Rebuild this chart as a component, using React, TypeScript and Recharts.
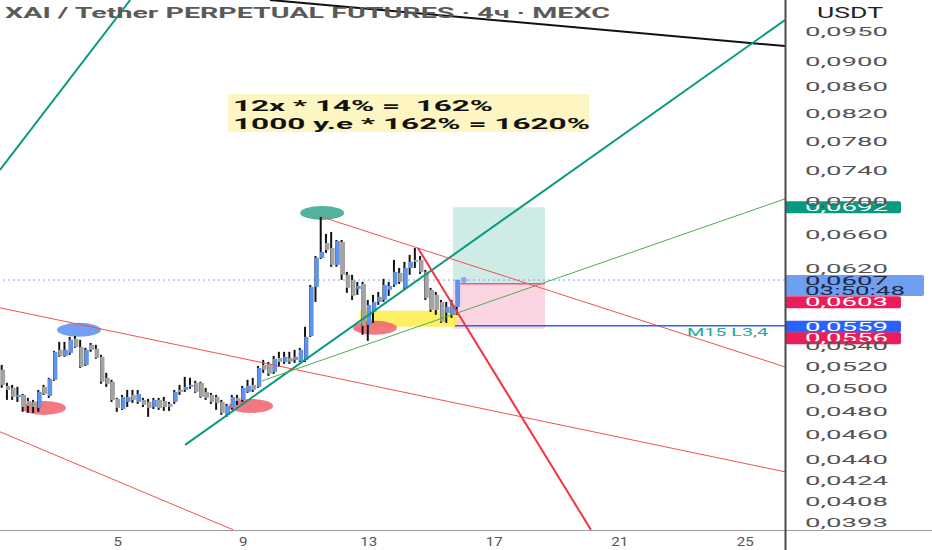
import React from 'react';
import { ComposedChart, Bar, XAxis, YAxis, ReferenceLine, ReferenceArea, ReferenceDot } from 'recharts';

// 4h candles, index 0 = first visible candle
const openP = [0.05165, 0.05018, 0.05, 0.04919, 0.04937, 0.04884, 0.04875, 0.04823, 0.05009, 0.04928, 0.05073, 0.05354, 0.05296, 0.05325, 0.05461, 0.05382, 0.05211, 0.05402, 0.05363, 0.05287, 0.05091, 0.05055, 0.04902, 0.04814, 0.04875, 0.04937, 0.04875, 0.04893, 0.04875, 0.04831, 0.04893, 0.04884, 0.04858, 0.04875, 0.04982, 0.04982, 0.05009, 0.05046, 0.05046, 0.04964, 0.04937, 0.04919, 0.04875, 0.04763, 0.04823, 0.04911, 0.04893, 0.04964, 0.05027, 0.05009, 0.05211, 0.0522, 0.05146, 0.05277, 0.05239, 0.05277, 0.05258, 0.05249, 0.05258, 0.0549, 0.05996, 0.06317, 0.06489, 0.06431, 0.06238, 0.06501, 0.06127, 0.06072, 0.05974, 0.06028, 0.056, 0.05732, 0.05836, 0.05857, 0.05964, 0.06017, 0.06149, 0.05985, 0.06204, 0.06294, 0.06294, 0.0616, 0.05964, 0.0591, 0.05836, 0.05722, 0.05702, 0.05784];
const highP = [0.05211, 0.05046, 0.05027, 0.05009, 0.04946, 0.04911, 0.04893, 0.04982, 0.05027, 0.05091, 0.05344, 0.05431, 0.05431, 0.0548, 0.0549, 0.05451, 0.05373, 0.05421, 0.05402, 0.05306, 0.05137, 0.05073, 0.04911, 0.04937, 0.04982, 0.04982, 0.04982, 0.04911, 0.04902, 0.04911, 0.04911, 0.04919, 0.04875, 0.04982, 0.05027, 0.051, 0.05091, 0.05064, 0.05055, 0.05, 0.04955, 0.04937, 0.04893, 0.04858, 0.04937, 0.04937, 0.05018, 0.05073, 0.05091, 0.05201, 0.05258, 0.05239, 0.05296, 0.05335, 0.05335, 0.05335, 0.05354, 0.05373, 0.0558, 0.06017, 0.06339, 0.068, 0.06595, 0.06619, 0.06524, 0.06524, 0.0616, 0.06127, 0.0605, 0.0605, 0.05857, 0.0591, 0.05942, 0.06083, 0.0605, 0.06294, 0.06204, 0.06272, 0.06351, 0.06431, 0.06339, 0.06182, 0.05985, 0.05942, 0.05857, 0.05836, 0.05857, 0.06072];
const lowP = [0.05, 0.04893, 0.04893, 0.04875, 0.04789, 0.0478, 0.0478, 0.04789, 0.04937, 0.04911, 0.05064, 0.05287, 0.05287, 0.05306, 0.05373, 0.05183, 0.05201, 0.05335, 0.05268, 0.05037, 0.05009, 0.04875, 0.04789, 0.04806, 0.04831, 0.04867, 0.04858, 0.04831, 0.04746, 0.04814, 0.04806, 0.04797, 0.04797, 0.04858, 0.04937, 0.04964, 0.04991, 0.04955, 0.04911, 0.04893, 0.04858, 0.04806, 0.04763, 0.04746, 0.04806, 0.04849, 0.04875, 0.04955, 0.04964, 0.05, 0.05137, 0.05109, 0.05128, 0.05192, 0.0522, 0.0522, 0.0523, 0.05239, 0.05239, 0.0548, 0.05836, 0.06305, 0.06374, 0.06216, 0.06216, 0.06072, 0.05932, 0.05857, 0.0591, 0.055, 0.05441, 0.0562, 0.05805, 0.05836, 0.059, 0.05996, 0.06028, 0.05964, 0.06127, 0.06204, 0.06138, 0.05857, 0.05732, 0.05702, 0.0562, 0.0562, 0.05671, 0.05702];
const closeP = [0.05027, 0.04982, 0.04919, 0.04937, 0.04831, 0.0484, 0.04831, 0.04964, 0.04946, 0.05082, 0.05335, 0.05296, 0.05354, 0.05451, 0.05382, 0.05192, 0.05354, 0.05354, 0.05277, 0.05055, 0.05037, 0.04893, 0.04823, 0.04919, 0.04919, 0.04893, 0.04946, 0.04849, 0.04823, 0.04893, 0.04823, 0.04831, 0.04831, 0.04964, 0.04964, 0.05009, 0.05027, 0.04964, 0.04919, 0.04911, 0.04875, 0.04867, 0.0478, 0.0484, 0.04919, 0.04884, 0.05, 0.05018, 0.04982, 0.05183, 0.05165, 0.05128, 0.05268, 0.05239, 0.05287, 0.05239, 0.05287, 0.05354, 0.0548, 0.05996, 0.06317, 0.06385, 0.06408, 0.06238, 0.06512, 0.06127, 0.05985, 0.059, 0.06006, 0.0559, 0.05805, 0.05836, 0.05889, 0.06017, 0.06006, 0.0616, 0.0605, 0.06204, 0.06272, 0.06272, 0.0616, 0.05878, 0.05753, 0.05753, 0.0563, 0.05784, 0.05805, 0.0607];

const priceTicks = [0.095, 0.09, 0.086, 0.082, 0.078, 0.074, 0.07, 0.066, 0.062, 0.054, 0.052, 0.05, 0.048, 0.046, 0.044, 0.0424, 0.0408, 0.0393];
const dayTicks = [22, 46, 70, 94, 118, 142];
const dayLabels = ['5', '9', '13', '17', '21', '25'];

// drawn trend lines: [index1, price1, index2, price2]
const blackLine = [51.1, 0.10045, 149.6, 0.09247];
const tealUpper = [-0.5, 0.07399, 24.4, 0.10045];
const tealLong = [34.9, 0.04513, 149.6, 0.0969];
const greenThin = [49.6, 0.05063, 149.6, 0.07024];
const redChannelTop = [-0.5, 0.05774, 149.6, 0.04299];
const redChannelLow = [-0.5, 0.0462, 44.1, 0.03873];
const redFromHigh = [61, 0.068, 149.6, 0.05192];
const redSteep = [79.4, 0.06431, 112.5, 0.03873];

// marked swings: [index, price]
const blueMark = [14.6, 0.0555];
const redMarks = [[7.9, 0.04823], [47.5, 0.0484], [71.2, 0.0557]];
const tealMark = [61.1, 0.06849];

// position tool
const entryPrice = 0.0603;
const targetPrice = 0.0692;
const stopPrice = 0.0556;
const levelPrice = 0.0559;
const lastPrice = 0.0607;
const toolStart = 86.1;
const toolEnd = 103.7;
const zoneTop = 0.05743;
const zoneBottom = 0.0558;
const zoneStart = 68.3;
const zoneEnd = 86.9;

const candles = openP.map((open, i) => ({ i, open, high: highP[i], low: lowP[i], close: closeP[i] }));

const X_MIN = -0.5;
const X_MAX = 149.6;
const Y_MIN = 0.03872;
const Y_MAX = 0.10045;

const fmt = (v: number) => v.toFixed(4).replace('.', ',');

const Candle = (props: any) => {
  const { x, y, width, height, payload } = props;
  if (x == null || y == null) return null;
  const top = Math.min(y, y + height);
  const h = Math.abs(height);
  const cx = x + width / 2;
  const lh = Math.log(payload.high);
  const ll = Math.log(payload.low);
  const toY = (p: number) => top + (h * (lh - Math.log(p))) / (lh - ll || 1);
  const up = payload.close >= payload.open;
  const bTop = toY(Math.max(payload.open, payload.close));
  const bBot = toY(Math.min(payload.open, payload.close));
  return (
    <g>
      <line x1={cx - 0.8} x2={cx - 0.8} y1={top} y2={top + h} stroke="#111" strokeWidth={2} />
      <rect x={cx - 1.6} y={bTop} width={4.2} height={Math.max(bBot - bTop, 1.5)} fill={up ? '#5f93ec' : '#a3a3a3'} />
    </g>
  );
};

const PriceTick = (props: any) => {
  const { y, payload } = props;
  return (
    <text x={805} y={y + 5} fontSize={13} fill="#555" fontFamily="Roboto, sans-serif" textLength={83} lengthAdjust="spacingAndGlyphs">
      {fmt(payload.value)}
    </text>
  );
};

const DayTick = (props: any) => {
  const { x, payload } = props;
  const label = dayLabels[dayTicks.indexOf(payload.value)] ?? '';
  return (
    <text x={x} y={546} fontSize={13} fill="#555" textAnchor="middle" fontFamily="Roboto, sans-serif" textLength={label.length * 8.5} lengthAdjust="spacingAndGlyphs">
      {label}
    </text>
  );
};

const ellipse = (color: string) => (p: any) => (
  <ellipse cx={p.cx} cy={p.cy} rx={22} ry={7} fill={color} fillOpacity={0.85} />
);

const badge = (fill: string, text: string, dy: number, w: number, textColor: string, sub?: string) => (p: any) => (
  <g>
    <rect x={p.cx} y={p.cy + dy} width={w} height={sub ? 21 : 12} rx={2} fill={fill} />
    <text x={p.cx + 20} y={p.cy + dy + 10} fontSize={12} fill={textColor} fontFamily="Roboto, sans-serif" textLength={83} lengthAdjust="spacingAndGlyphs">
      {text}
    </text>
    {sub && (
      <text x={p.cx + 20} y={p.cy + dy + 19.5} fontSize={12} fill={textColor} fontFamily="Roboto, sans-serif" textLength={100} lengthAdjust="spacingAndGlyphs">
        {sub}
      </text>
    )}
  </g>
);

const seg = (l: number[]) => [{ x: l[0], y: l[1] }, { x: l[2], y: l[3] }] as any;

export default function App() {
  return (
    <div style={{ position: 'absolute', left: 0, top: 0, width: 932, height: 550, background: '#fff', fontFamily: 'Roboto, sans-serif' }}>
      <style>{'body{margin:0}'}</style>
      <ComposedChart width={932} height={550} data={candles} margin={{ top: 0, right: 0, left: 0, bottom: 0 }}>
        <XAxis dataKey="i" type="number" domain={[X_MIN, X_MAX]} allowDataOverflow ticks={dayTicks} interval={0} height={20} tick={<DayTick />} tickLine={false} axisLine={false} />
        <YAxis orientation="right" type="number" scale="log" domain={[Y_MIN, Y_MAX]} allowDataOverflow ticks={priceTicks} interval={0} width={147} tick={<PriceTick />} tickLine={false} axisLine={false} />

        <ReferenceArea x1={toolStart} x2={toolEnd} y1={entryPrice} y2={targetPrice} fill="#089981" fillOpacity={0.2} stroke="none" ifOverflow="hidden" zIndex={50} />
        <ReferenceArea x1={toolStart} x2={toolEnd} y1={stopPrice} y2={entryPrice} fill="#ec407a" fillOpacity={0.22} stroke="none" ifOverflow="hidden" zIndex={50} />
        <ReferenceArea x1={zoneStart} x2={zoneEnd} y1={zoneBottom} y2={zoneTop} fill="#ffeb3b" fillOpacity={0.8} stroke="none" ifOverflow="hidden" zIndex={55} />

        <ReferenceDot x={blueMark[0]} y={blueMark[1]} shape={ellipse('#5a8ef0')} ifOverflow="hidden" zIndex={60} />
        {redMarks.map((m, k) => (
          <ReferenceDot key={k} x={m[0]} y={m[1]} shape={ellipse('#f0606c')} ifOverflow="hidden" zIndex={60} />
        ))}
        <ReferenceDot x={tealMark[0]} y={tealMark[1]} shape={ellipse('#32a58c')} ifOverflow="hidden" zIndex={60} />

        <ReferenceLine y={lastPrice} stroke="#7e9df0" strokeDasharray="2 3" ifOverflow="hidden" zIndex={70} />

        <Bar dataKey={(d: any) => [d.low, d.high]} barSize={5} shape={<Candle />} isAnimationActive={false} zIndex={300} />

        <ReferenceLine segment={seg(blackLine)} stroke="#111" strokeWidth={2} ifOverflow="hidden" zIndex={400} />
        <ReferenceLine segment={seg(tealUpper)} stroke="#089981" strokeWidth={2} ifOverflow="hidden" zIndex={400} />
        <ReferenceLine segment={seg(tealLong)} stroke="#089981" strokeWidth={2} ifOverflow="hidden" zIndex={400} />
        <ReferenceLine segment={seg(greenThin)} stroke="#4caf50" strokeWidth={1} ifOverflow="hidden" zIndex={400} />
        <ReferenceLine segment={seg(redChannelTop)} stroke="#ef5350" strokeWidth={1} ifOverflow="hidden" zIndex={400} />
        <ReferenceLine segment={seg(redChannelLow)} stroke="#ef5350" strokeWidth={1} ifOverflow="hidden" zIndex={400} />
        <ReferenceLine segment={seg(redFromHigh)} stroke="#ef5350" strokeWidth={1} ifOverflow="hidden" zIndex={400} />
        <ReferenceLine segment={seg(redSteep)} stroke="#f23645" strokeWidth={2} ifOverflow="hidden" zIndex={400} />
        <ReferenceLine segment={[{ x: toolStart + 1.4, y: entryPrice }, { x: toolEnd, y: entryPrice }]} stroke="#f05b6e" strokeWidth={1.5} ifOverflow="hidden" zIndex={400} />
        <ReferenceLine segment={[{ x: 86.5, y: levelPrice }, { x: X_MAX, y: levelPrice }]} stroke="#2962ff" strokeWidth={1.5} ifOverflow="hidden" zIndex={400} />
        <ReferenceDot x={88.2} y={lastPrice} r={3} fill="#8aa7f0" stroke="none" ifOverflow="hidden" zIndex={410} />

        <ReferenceDot x={X_MAX} y={targetPrice} ifOverflow="visible" shape={badge('#089981', fmt(targetPrice), -6, 116, '#fff')} zIndex={900} />
        <ReferenceDot x={X_MAX} y={lastPrice} ifOverflow="visible" shape={badge('#6f9ff0', fmt(lastPrice), -5, 139, '#1b2a48', '03:50:48')} zIndex={900} />
        <ReferenceDot x={X_MAX} y={entryPrice} ifOverflow="visible" shape={badge('#e91e5a', fmt(entryPrice), 12.5, 116, '#fff')} zIndex={900} />
        <ReferenceDot x={X_MAX} y={levelPrice} ifOverflow="visible" shape={badge('#2962ff', fmt(levelPrice), -5, 116, '#fff')} zIndex={900} />
        <ReferenceDot x={X_MAX} y={stopPrice} ifOverflow="visible" shape={badge('#e91e5a', fmt(stopPrice), 3.5, 116, '#fff')} zIndex={900} />
      </ComposedChart>

      <svg width={932} height={550} style={{ position: 'absolute', left: 0, top: 0, pointerEvents: 'none' }}>
        <line x1={0} x2={932} y1={530.5} y2={530.5} stroke="#a0a0a0" strokeWidth={1} />
        <line x1={785.5} x2={785.5} y1={0} y2={550} stroke="#4a4a4a" strokeWidth={2} />
        <text x={5} y={18} fontSize={15} fontWeight="bold" fill="#5a5a5a" fontFamily="Roboto, sans-serif" textLength={605} lengthAdjust="spacingAndGlyphs">
          XAI / Tether PERPETUAL FUTURES · 4ч · MEXC
        </text>
        <text x={850} y={18} fontSize={14} fill="#222" textAnchor="middle" fontFamily="Roboto, sans-serif" textLength={66} lengthAdjust="spacingAndGlyphs">
          USDT
        </text>
        <rect x={228} y={94} width={361} height={38} fill="#fdf6c3" />
        <text x={233} y={111} fontSize={15} fontWeight="bold" fill="#111" fontFamily="Roboto, sans-serif" textLength={260} lengthAdjust="spacingAndGlyphs">
          {'12x * 14% =\u00a0 162%'}
        </text>
        <text x={233} y={129} fontSize={15} fontWeight="bold" fill="#111" fontFamily="Roboto, sans-serif" textLength={357} lengthAdjust="spacingAndGlyphs">
          1000 y.e * 162% = 1620%
        </text>
        <text x={687} y={336} fontSize={10.5} fill="#26a69a" fontFamily="Roboto, sans-serif" textLength={81} lengthAdjust="spacingAndGlyphs">
          M15 L3,4
        </text>
      </svg>
    </div>
  );
}
